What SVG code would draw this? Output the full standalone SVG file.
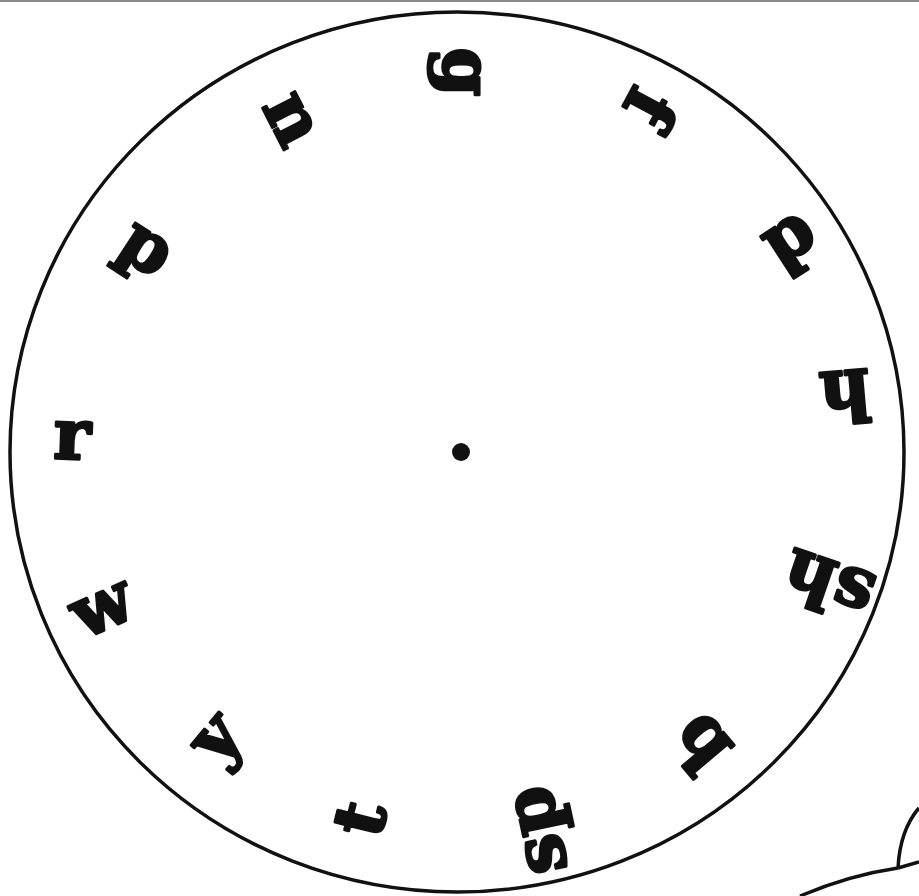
<svg xmlns="http://www.w3.org/2000/svg" width="919" height="896" viewBox="0 0 919 896">
<style>
.l{font-family:"DejaVu Serif","Liberation Serif",serif;font-weight:bold;font-size:70px;fill:#111;stroke:#111;stroke-width:3;stroke-linejoin:round;text-anchor:middle}
.ln{fill:none;stroke:#111;stroke-width:3.5}
</style>
<rect width="919" height="896" fill="#fff"/>
<line x1="0" y1="1" x2="919" y2="1" stroke="#888" stroke-width="2"/>
<g id="wheel">
<ellipse class="ln" cx="457" cy="452" rx="447" ry="440"/>
<circle cx="461" cy="452" r="9" fill="#111"/>
</g>
<g id="letters">
<g id="g" transform="translate(462,72) rotate(90)"><text class="l" y="19">g</text></g>
<g id="f" transform="translate(645,105) rotate(118)"><text class="l" y="19">f</text></g>
<g id="d" transform="translate(790,240) rotate(147)"><text class="l" y="19">d</text></g>
<g id="h" transform="translate(845,390) rotate(175)"><text class="l" y="19">h</text></g>
<g id="sh" transform="translate(830,580) rotate(199)"><text class="l" y="19">sh</text></g>
<g id="b" transform="translate(705,740) rotate(230)"><text class="l" y="19">b</text></g>
<g id="sp" transform="translate(540,830) rotate(258)"><text class="l" y="19">sp</text></g>
<g id="t" transform="translate(365,820) rotate(284)"><text class="l" y="19">t</text></g>
<g id="y" transform="translate(218,740) rotate(310)"><text class="l" y="19">y</text></g>
<g id="w" transform="translate(103,610) rotate(336)"><text class="l" y="19">w</text></g>
<g id="r" transform="translate(72,440) rotate(2)"><text class="l" y="19">r</text></g>
<g id="p" transform="translate(145,250) rotate(33)"><text class="l" y="19">p</text></g>
<g id="n" transform="translate(290,120) rotate(63)"><text class="l" y="19">n</text></g>
</g>
<g id="corner">
<path class="ln" d="M800 896 Q850 875 898 868"/>
<path class="ln" d="M898 868 Q900 830 919 808"/>
<path class="ln" d="M898 868 L919 862"/>
</g>
</svg>
